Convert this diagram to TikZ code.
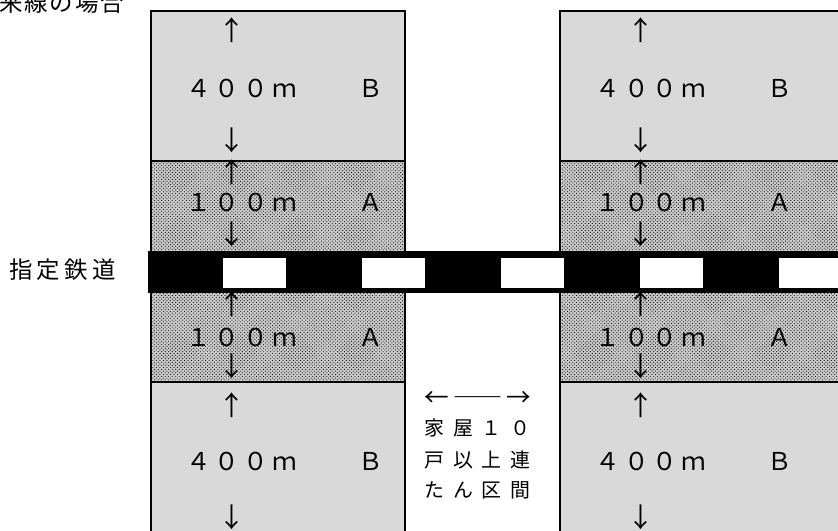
\documentclass[tikz,border=0pt]{standalone}
\usepackage{fontspec}
\newfontfamily\jpwide[LetterSpace=45]{Noto Sans CJK JP}
\newfontfamily\jplat[LetterSpace=17]{Noto Sans CJK JP}
\newfontfamily\jptight[LetterSpace=18]{Noto Sans CJK JP}
\newfontfamily\jptitle[LetterSpace=8]{Noto Sans CJK JP}
\newfontfamily\jpplain{Noto Sans CJK JP}
\usetikzlibrary{patterns,calc}

\begin{document}
\begin{tikzpicture}[x=0.03cm,y=-0.03cm,
    lbl/.style={font=\jplat\fontsize{21}{24}\selectfont, inner sep=0pt, anchor=west},
    txt/.style={font=\jpwide\fontsize{17}{20}\selectfont, inner sep=0pt, anchor=west},
    arr/.style={font=\jpplain\fontsize{23}{26}\selectfont, inner sep=0pt},
    side/.style={font=\jptight\fontsize{20}{22}\selectfont, inner sep=0pt, anchor=west},
    zoneB/.style={fill=gray!30},
    zoneA/.style={pattern=crosshatch dots, pattern color=black},
    frame/.style={draw=black, line width=1.8pt}]
    \useasboundingbox (0,0) rectangle (838,531);
    %Definitions (pixel units, y downwards)%
    %===========================================================
    \def \Top {11}; %top of the strips
    \def \Split {161}; %border B/A above the railway
    \def \RailTop {251};
    \def \RailBot {293};
    \def \SplitLow {382}; %border A/B below the railway
    \def \Bot {540};
    %Zones: left strip and right strip
    %===========================================================
    \foreach \xa/\xb in {151/405, 560/850}{
        \fill[zoneB] (\xa,\Top) rectangle (\xb,\Bot);
        \fill[gray!40] (\xa,\Split) rectangle (\xb,\SplitLow);
        \fill[zoneA] (\xa,\Split) rectangle (\xb,\SplitLow);
        \draw[frame] (\xa,\Bot) -- (\xa,\Top) -- (\xb,\Top) -- (\xb,\Bot);
        \draw[frame] (\xa,\Split) -- (\xb,\Split);
        \draw[frame] (\xa,\SplitLow) -- (\xb,\SplitLow);
    }
    %Railway
    %===========================================================
    \fill[black] (148,\RailTop) rectangle (850,\RailBot);
    \foreach \i in {0,...,4}
        \fill[white] ({223+139*\i},258) rectangle +(63,30);
    %Labels in the strips
    %===========================================================
    \foreach \col/\dx in {l/0, r/409}{
        \node[arr] (upBt\col) at (232+\dx,30) {↑};
        \node[lbl] (Bt\col) at (186+\dx,88) {４００ｍ　　Ｂ};
        \node[arr] (dnBt\col) at (232+\dx,140) {↓};
        \node[arr] (upAt\col) at (232+\dx,172) {↑};
        \node[lbl] (At\col) at (186+\dx,202) {１００ｍ　　Ａ};
        \node[arr] (dnAt\col) at (232+\dx,234) {↓};
        \node[arr] (upAb\col) at (232+\dx,304) {↑};
        \node[lbl] (Ab\col) at (186+\dx,337) {１００ｍ　　Ａ};
        \node[arr] (dnAb\col) at (232+\dx,366) {↓};
        \node[arr] (upBb\col) at (232+\dx,405) {↑};
        \node[lbl] (Bb\col) at (186+\dx,461) {４００ｍ　　Ｂ};
        \node[arr] (dnBb\col) at (232+\dx,517) {↓};
    }
    %Texts outside the strips
    %===========================================================
    \node[side, font=\jptitle\fontsize{20}{22}\selectfont] (title) at (-1,3) {来線の場合};
    \node[side] (rail) at (9,270) {指定鉄道};
    \node[lbl] (span) at (424,399) {←――→};
    \node[txt] (houses1) at (424,428) {家屋１０};
    \node[txt] (houses2) at (424,460) {戸以上連};
    \node[txt] (houses3) at (424,490) {たん区間};
\end{tikzpicture}
\end{document}
